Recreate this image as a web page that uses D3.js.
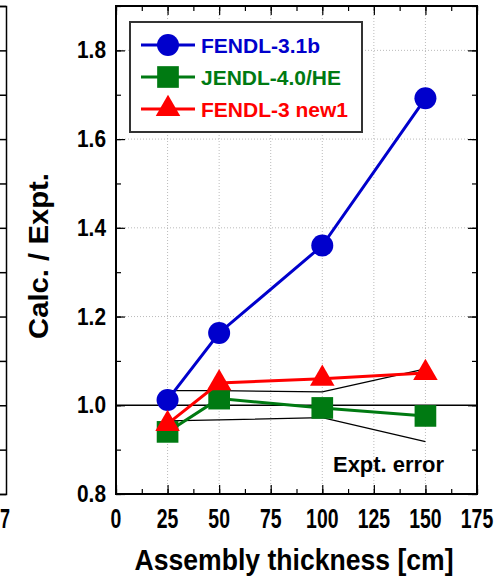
<!DOCTYPE html>
<html>
<head>
<meta charset="utf-8">
<script src="https://cdn.jsdelivr.net/npm/d3@7"></script>
<style>
  body { margin: 0; background: #fff; }
  text { font-family: "Liberation Sans", Arial, sans-serif; font-weight: bold; }
</style>
</head>
<body>
<div id="chart"></div>
<script>
// thickness [cm]
const thickness = [25, 50, 100, 150];
const fendl31b = [1.012, 1.163, 1.360, 1.692];
const jendl40he = [0.940, 1.015, 0.994, 0.976];
const fendl3new1 = [0.958, 1.050, 1.060, 1.073];
// experimental error band
const errUpper = [1.033, 1.033, 1.030, 1.082];
const errLower = [0.965, 0.967, 0.972, 0.918];

const xTicks = [0, 25, 50, 75, 100, 125, 150, 175];
const yTicks = [0.8, 1.0, 1.2, 1.4, 1.6, 1.8];

const series = [
    { name: "FENDL-3.1b", color: "#0000cc", symbol: d3.symbolCircle, size: 380, values: fendl31b },
    { name: "JENDL-4.0/HE", color: "#007a12", symbol: d3.symbolSquare, size: 470, values: jendl40he },
    { name: "FENDL-3 new1", color: "#ff0000", symbol: d3.symbolTriangle, size: 260, values: fendl3new1 }
];

const W = 495, H = 580;
const margin = { top: 6, right: 18, bottom: 86, left: 116 };
const width = W - margin.left - margin.right,
    height = H - margin.top - margin.bottom;

const svg = d3.select("#chart").append("svg")
    .attr("width", W)
    .attr("height", H);

// squeeze text to the narrow face of the original
function narrow(sel, len) {
    return sel.attr("textLength", len).attr("lengthAdjust", "spacingAndGlyphs");
}

// bit of the neighbouring panel at the left edge
const yLeft = d3.scaleLinear().domain([0.8, 1.9]).range([height + margin.top, margin.top]);
svg.append("g")
    .attr("transform", "translate(6,0)")
    .call(d3.axisLeft(yLeft).ticks(11).tickSize(6).tickFormat(""))
    .call(g => g.selectAll("path, line").attr("stroke", "#000").attr("stroke-width", 1.5));
svg.append("text")
    .attr("x", 0).attr("y", 528)
    .attr("font-size", 28)
    .call(narrow, 10)
    .text("7");

const g = svg.append("g")
    .attr("transform", `translate(${margin.left},${margin.top})`);

const x = d3.scaleLinear().domain([0, 175]).range([0, width]);
const y = d3.scaleLinear().domain([0.8, 1.9]).range([height, 0]);

// grid
g.append("g").selectAll("line")
    .data(xTicks.slice(1, -1))
    .enter().append("line")
    .attr("x1", d => x(d)).attr("x2", d => x(d))
    .attr("y1", 0).attr("y2", height)
    .attr("stroke", "#aaa").attr("stroke-width", 0.8).attr("stroke-dasharray", "1,2");
g.append("g").selectAll("line")
    .data(yTicks.slice(2))
    .enter().append("line")
    .attr("x1", 0).attr("x2", width)
    .attr("y1", d => y(d)).attr("y2", d => y(d))
    .attr("stroke", "#aaa").attr("stroke-width", 0.8).attr("stroke-dasharray", "1,2");

// reference line at 1.0
g.append("line")
    .attr("x1", 0).attr("x2", width)
    .attr("y1", y(1)).attr("y2", y(1))
    .attr("stroke", "#000").attr("stroke-width", 1.3);

// axes: major + minor ticks pointing inward on all sides
const xMinor = d3.range(0, 176, 12.5);
const yMinor = d3.range(0.8, 1.91, 0.1);
function tickAxis(axisFn, scale, values, size) {
    return axisFn(scale).tickValues(values).tickSizeInner(-size).tickSizeOuter(0).tickFormat("");
}
const axes = g.append("g").attr("class", "axes");
axes.append("g").attr("transform", `translate(0,${height})`).call(tickAxis(d3.axisBottom, x, xMinor, 5));
axes.append("g").attr("transform", `translate(0,${height})`).call(tickAxis(d3.axisBottom, x, xTicks, 9));
axes.append("g").call(tickAxis(d3.axisTop, x, xMinor, 5));
axes.append("g").call(tickAxis(d3.axisTop, x, xTicks, 9));
axes.append("g").call(tickAxis(d3.axisLeft, y, yMinor, 5));
axes.append("g").call(tickAxis(d3.axisLeft, y, yTicks, 9));
axes.append("g").attr("transform", `translate(${width},0)`).call(tickAxis(d3.axisRight, y, yMinor, 5));
axes.append("g").attr("transform", `translate(${width},0)`).call(tickAxis(d3.axisRight, y, yTicks, 9));
axes.selectAll("line").attr("stroke", "#000").attr("stroke-width", 1.2);
axes.selectAll("path.domain").remove();

g.append("rect")
    .attr("width", width).attr("height", height)
    .attr("fill", "none").attr("stroke", "#000").attr("stroke-width", 2);

// tick labels
g.append("g").selectAll("text")
    .data(xTicks)
    .enter().append("text")
    .attr("x", d => x(d)).attr("y", height + 34)
    .attr("text-anchor", "middle")
    .attr("font-size", 28)
    .attr("textLength", d => String(d).length * 10.8)
    .attr("lengthAdjust", "spacingAndGlyphs")
    .text(d => d);
g.append("g").selectAll("text")
    .data(yTicks)
    .enter().append("text")
    .attr("x", -10).attr("y", d => y(d) + 8)
    .attr("text-anchor", "end")
    .attr("font-size", 23.5)
    .call(narrow, 29)
    .text(d => d.toFixed(1));

// axis titles
svg.append("text")
    .attr("x", 294).attr("y", 570)
    .attr("text-anchor", "middle")
    .attr("font-size", 29)
    .call(narrow, 319)
    .text("Assembly thickness [cm]");
svg.append("text")
    .attr("transform", "translate(48,256) rotate(-90)")
    .attr("text-anchor", "middle")
    .attr("font-size", 27)
    .call(narrow, 166)
    .text("Calc. / Expt.");

// expt. error band
const line = d3.line()
    .x((d, i) => x(thickness[i]))
    .y(d => y(d));
[errUpper, errLower].forEach(band => {
    g.append("path")
        .attr("d", line(band))
        .attr("fill", "none")
        .attr("stroke", "#000")
        .attr("stroke-width", 1.3);
});
g.append("text")
    .attr("x", x(105.2)).attr("y", y(0.85))
    .attr("font-size", 22)
    .call(narrow, 111)
    .text("Expt. error");

// series
series.forEach(s => {
    const sg = g.append("g");
    sg.append("path")
        .attr("d", line(s.values))
        .attr("fill", "none")
        .attr("stroke", s.color)
        .attr("stroke-width", 3);
    sg.selectAll(".pt")
        .data(s.values)
        .enter().append("path")
        .attr("class", "pt")
        .attr("transform", (d, i) => `translate(${x(thickness[i])},${y(d)})`)
        .attr("d", d3.symbol().type(s.symbol).size(s.size)())
        .attr("fill", s.color);
});

// legend
const legend = g.append("g").attr("transform", "translate(14,16)");
legend.append("rect")
    .attr("width", 232).attr("height", 110)
    .attr("fill", "#fff").attr("stroke", "#333").attr("stroke-width", 2);
series.forEach((s, i) => {
    const row = legend.append("g").attr("transform", `translate(0,${23 + i * 32})`);
    row.append("line")
        .attr("x1", 11).attr("x2", 65)
        .attr("stroke", s.color).attr("stroke-width", 3);
    row.append("path")
        .attr("transform", "translate(38,0)")
        .attr("d", d3.symbol().type(s.symbol).size(s.size)())
        .attr("fill", s.color);
    row.append("text")
        .attr("x", 71).attr("y", 8)
        .attr("font-size", 21)
        .attr("fill", s.color)
        .text(s.name);
});
</script>
</body>
</html>
